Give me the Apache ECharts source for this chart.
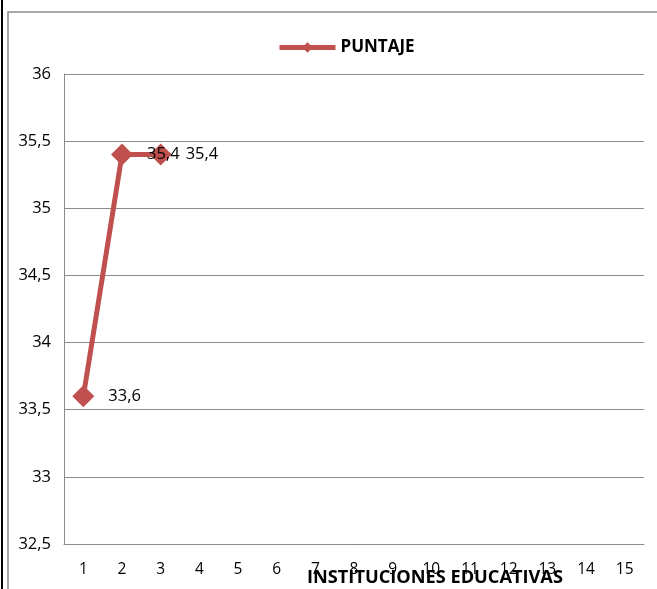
<!DOCTYPE html>
<html>
	<head>
		<meta charset="utf-8">
		<title>PUNTAJE</title>
		<script src="https://cdn.jsdelivr.net/npm/echarts@6/dist/echarts.min.js"></script>
	</head>
	<body style="margin:0">
		<div id="box" style="width: 657px;height: 589px;"></div>
		<script>
			var categories = ['1', '2', '3', '4', '5', '6', '7', '8', '9', '10', '11', '12', '13', '14', '15']
			var puntaje = [33.6, 35.4, 35.4]
			var seriesName = 'PUNTAJE'
			var xTitle = 'INSTITUCIONES EDUCATIVAS'

			var font = 'Open Sans'
			var comma = function (v) { return String(v).replace('.', ',') }

			var mCharts = echarts.init(document.querySelector('#box'))
			var option = {
				animation: false,
				backgroundColor: '#fff',
				textStyle: { fontFamily: font },
				graphic: [
					{ type: 'rect', shape: { x: 8, y: 12, width: 700, height: 650 }, style: { fill: 'none', stroke: '#8c8c8c', lineWidth: 1.5 } },
					{ type: 'rect', shape: { x: 1, y: 0, width: 2, height: 589 }, style: { fill: '#000' } }
				],
				title: {
					text: xTitle,
					left: 302,
					top: 564,
					textStyle: { fontFamily: font, fontSize: 18.2, fontWeight: 'bold', color: '#000' }
				},
				legend: {
					top: 34,
					left: 272,
					itemWidth: 56,
					itemHeight: 13,
					itemGap: 3,
					lineStyle: { width: 5 },
					textStyle: { fontFamily: font, fontSize: 17, fontWeight: 'bold', color: '#000' },
					data: [seriesName]
				},
				grid: { left: 64, right: 13, top: 74, bottom: 45 },
				xAxis: {
					type: 'category',
					data: categories,
					boundaryGap: true,
					axisLine: { lineStyle: { color: '#8c8c8c' } },
					axisTick: { show: false },
					axisLabel: { color: '#000', fontSize: 15.5, margin: 18, fontFamily: font }
				},
				yAxis: {
					type: 'value',
					min: 32.5,
					max: 36,
					interval: 0.5,
					axisLine: { show: true, lineStyle: { color: '#8c8c8c' } },
					axisTick: { show: false },
					splitLine: { lineStyle: { color: '#8c8c8c' } },
					axisLabel: { color: '#000', fontSize: 16.5, margin: 13, fontFamily: font, formatter: comma }
				},
				series: [{
					name: seriesName,
					type: 'line',
					data: puntaje,
					symbol: 'diamond',
					symbolSize: 22,
					lineStyle: { color: '#C0504D', width: 5 },
					itemStyle: { color: '#C0504D' },
					label: {
						show: true,
						position: 'right',
						distance: 14,
						color: '#000',
						fontSize: 16.5,
						fontFamily: font,
						formatter: function (p) { return comma(p.value) }
					}
				}]
			}
			mCharts.setOption(option)
		</script>
	</body>
</html>
